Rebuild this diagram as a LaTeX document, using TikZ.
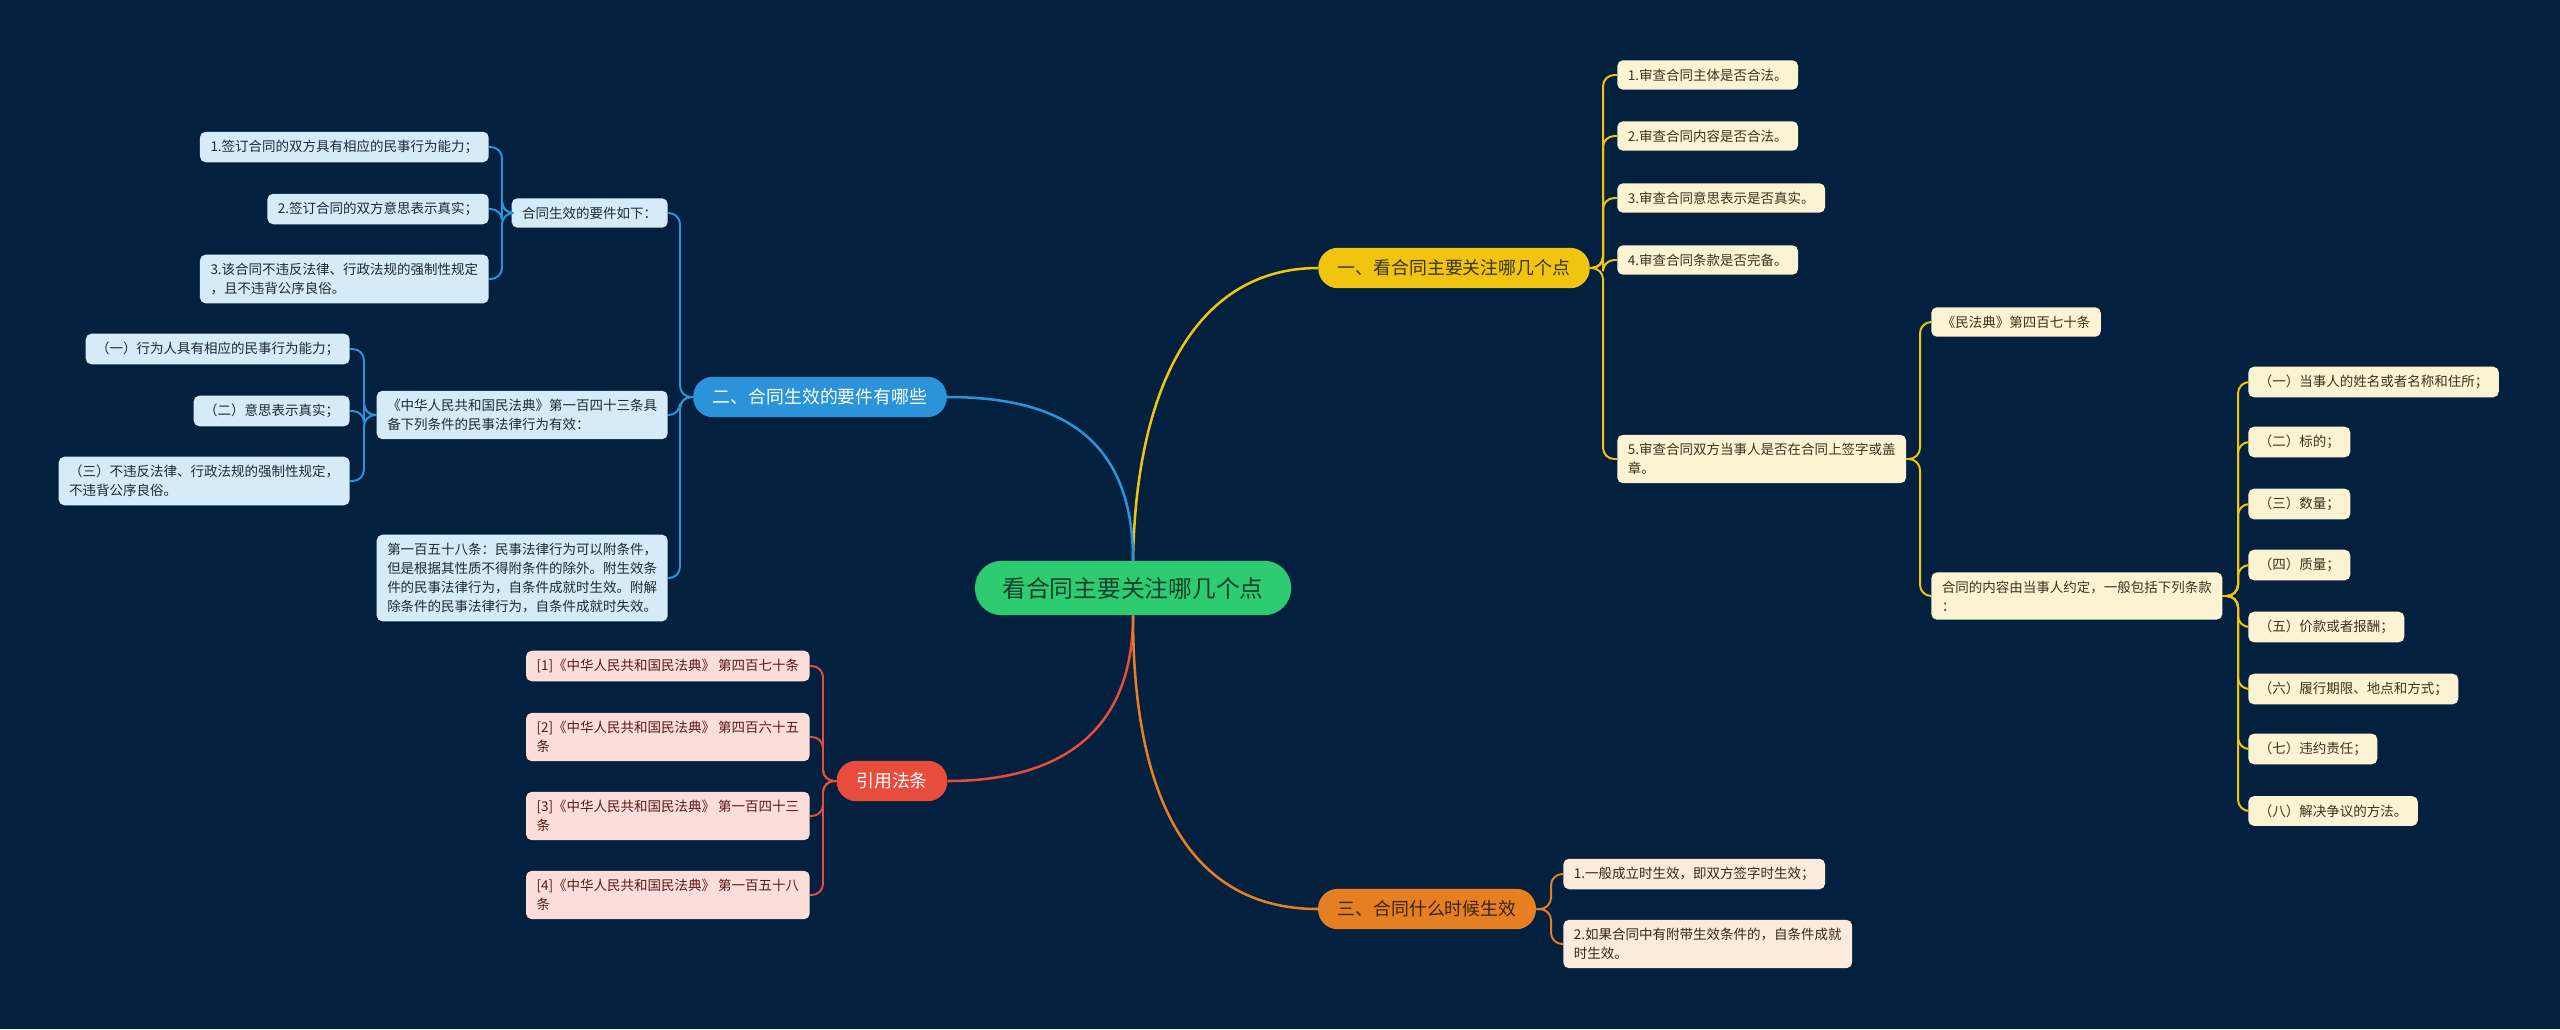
\documentclass[tikz,border=0pt]{standalone}
\usepackage{fontspec}
\setmainfont{Noto Sans CJK SC}
\definecolor{bg}{HTML}{03213F}
\definecolor{topicfill}{HTML}{2ECC71}
\definecolor{topictext}{HTML}{17402A}
\definecolor{ycol}{HTML}{F1C40F}
\definecolor{yfill}{HTML}{FCF3D2}
\definecolor{ytext}{HTML}{3A3420}
\definecolor{bcol}{HTML}{2A93DA}
\definecolor{bfill}{HTML}{D5EBF7}
\definecolor{btext}{HTML}{1E2A35}
\definecolor{ocol}{HTML}{E67E22}
\definecolor{ofill}{HTML}{FCEBDB}
\definecolor{otext}{HTML}{3A2414}
\definecolor{rcol}{HTML}{E74C3C}
\definecolor{rfill}{HTML}{FBDDD9}
\definecolor{rtext}{HTML}{5A1A14}
\tikzset{
  leaf/.style={rounded corners=4pt,inner xsep=7.5pt,inner ysep=6pt,align=left,font=\fontsize{9.6}{13.5}\selectfont},
  yleaf/.style={leaf,fill=yfill,text=ytext},
  bleaf/.style={leaf,fill=bfill,text=btext},
  oleaf/.style={leaf,fill=ofill,text=otext},
  rleaf/.style={leaf,fill=rfill,text=rtext},
  branch/.style={rounded corners=14pt,inner xsep=14pt,inner ysep=8.5pt,font=\fontsize{12.7}{15}\selectfont},
  topic/.style={rounded corners=19pt,inner xsep=19.5pt,inner ysep=11.5pt,fill=topicfill,text=topictext,font=\fontsize{16.9}{20}\selectfont},
  yline/.style={draw=ycol,line width=1.4pt,rounded corners=8pt},
  bline/.style={draw=bcol,line width=1.4pt,rounded corners=8pt},
  oline/.style={draw=ocol,line width=1.4pt,rounded corners=8pt},
  rline/.style={draw=rcol,line width=1.4pt,rounded corners=8pt}
}
\begin{document}
\begin{tikzpicture}[x=0.25mm,y=-0.25mm]
\useasboundingbox[fill=bg] (0,0) rectangle (2560,1029);
\node[topic] (top) at (1133,588) {看合同主要关注哪几个点};
\node[branch,fill=ycol,text=ytext] (b1) at (1454,268) {一、看合同主要关注哪几个点};
\node[branch,fill=bcol,text=white] (b2) at (820,397) {二、合同生效的要件有哪些};
\node[branch,fill=ocol,text=otext] (b3) at (1427,909) {三、合同什么时候生效};
\node[branch,fill=rcol,text=white] (b4) at (892,781) {引用法条};
\draw[yline,line width=1.8pt] (top.north) .. controls (1136,380) and (1200,268) .. (b1.west);
\draw[bline,line width=1.8pt] (top.north) .. controls (1133,430) and (1050,397) .. (b2.east);
\draw[rline,line width=1.8pt] (top.south) .. controls (1133,740) and (1050,781) .. (b4.east);
\draw[oline,line width=1.8pt] (top.south) .. controls (1133,830) and (1210,909) .. (b3.west);
\coordinate (ys) at (1603,0);
\coordinate (ms) at (1920,0);
\coordinate (ns) at (2238,0);
\node[yleaf,anchor=west] (y1) at (1617,75) {1.审查合同主体是否合法。};
\node[yleaf,anchor=west] (y2) at (1617,136) {2.审查合同内容是否合法。};
\node[yleaf,anchor=west] (y3) at (1617,198) {3.审查合同意思表示是否真实。};
\node[yleaf,anchor=west] (y4) at (1617,260) {4.审查合同条款是否完备。};
\node[yleaf,anchor=west] (y5) at (1617,459) {5.审查合同双方当事人是否在合同上签字或盖\\章。};
\node[yleaf,anchor=west] (m1) at (1931,322) {《民法典》第四百七十条};
\node[yleaf,anchor=west] (m2) at (1931,596) {合同的内容由当事人约定，一般包括下列条款\\：};
\node[yleaf,anchor=west] (n1) at (2248,382) {（一）当事人的姓名或者名称和住所；};
\node[yleaf,anchor=west] (n2) at (2248,442) {（二）标的；};
\node[yleaf,anchor=west] (n3) at (2248,504) {（三）数量；};
\node[yleaf,anchor=west] (n4) at (2248,565) {（四）质量；};
\node[yleaf,anchor=west] (n5) at (2248,627) {（五）价款或者报酬；};
\node[yleaf,anchor=west] (n6) at (2248,689) {（六）履行期限、地点和方式；};
\node[yleaf,anchor=west] (n7) at (2248,749) {（七）违约责任；};
\node[yleaf,anchor=west] (n8) at (2248,811) {（八）解决争议的方法。};
\draw[yline] (b1.east) -- (ys |- b1.east) -- (ys |- y1.west) -- (y1.west);
\draw[yline] (b1.east) -- (ys |- b1.east) -- (ys |- y2.west) -- (y2.west);
\draw[yline] (b1.east) -- (ys |- b1.east) -- (ys |- y3.west) -- (y3.west);
\draw[yline] (b1.east) -- (ys |- b1.east) -- (ys |- y4.west) -- (y4.west);
\draw[yline] (b1.east) -- (ys |- b1.east) -- (ys |- y5.west) -- (y5.west);
\draw[yline] (y5.east) -- (ms |- y5.east) -- (ms |- m1.west) -- (m1.west);
\draw[yline] (y5.east) -- (ms |- y5.east) -- (ms |- m2.west) -- (m2.west);
\draw[yline] (m2.east) -- (ns |- m2.east) -- (ns |- n1.west) -- (n1.west);
\draw[yline] (m2.east) -- (ns |- m2.east) -- (ns |- n2.west) -- (n2.west);
\draw[yline] (m2.east) -- (ns |- m2.east) -- (ns |- n3.west) -- (n3.west);
\draw[yline] (m2.east) -- (ns |- m2.east) -- (ns |- n4.west) -- (n4.west);
\draw[yline] (m2.east) -- (ns |- m2.east) -- (ns |- n5.west) -- (n5.west);
\draw[yline] (m2.east) -- (ns |- m2.east) -- (ns |- n6.west) -- (n6.west);
\draw[yline] (m2.east) -- (ns |- m2.east) -- (ns |- n7.west) -- (n7.west);
\draw[yline] (m2.east) -- (ns |- m2.east) -- (ns |- n8.west) -- (n8.west);
\coordinate (bs) at (680,0);
\coordinate (cs) at (502,0);
\coordinate (ds) at (364,0);
\node[bleaf,anchor=east] (c1) at (668,213) {合同生效的要件如下：};
\node[bleaf,anchor=east] (c2) at (668,415) {《中华人民共和国民法典》第一百四十三条具\\备下列条件的民事法律行为有效：};
\node[bleaf,anchor=east] (c3) at (668,578) {第一百五十八条：民事法律行为可以附条件，\\但是根据其性质不得附条件的除外。附生效条\\件的民事法律行为，自条件成就时生效。附解\\除条件的民事法律行为，自条件成就时失效。};
\node[bleaf,anchor=east] (e1) at (489,147) {1.签订合同的双方具有相应的民事行为能力；};
\node[bleaf,anchor=east] (e2) at (489,209) {2.签订合同的双方意思表示真实；};
\node[bleaf,anchor=east] (e3) at (489,279) {3.该合同不违反法律、行政法规的强制性规定\\，且不违背公序良俗。};
\node[bleaf,anchor=east] (f1) at (350,349) {（一）行为人具有相应的民事行为能力；};
\node[bleaf,anchor=east] (f2) at (350,411) {（二）意思表示真实；};
\node[bleaf,anchor=east] (f3) at (350,481) {（三）不违反法律、行政法规的强制性规定，\\不违背公序良俗。};
\draw[bline] (b2.west) -- (bs |- b2.west) -- (bs |- c1.east) -- (c1.east);
\draw[bline] (b2.west) -- (bs |- b2.west) -- (bs |- c2.east) -- (c2.east);
\draw[bline] (b2.west) -- (bs |- b2.west) -- (bs |- c3.east) -- (c3.east);
\draw[bline] (c1.west) -- (cs |- c1.west) -- (cs |- e1.east) -- (e1.east);
\draw[bline] (c1.west) -- (cs |- c1.west) -- (cs |- e2.east) -- (e2.east);
\draw[bline] (c1.west) -- (cs |- c1.west) -- (cs |- e3.east) -- (e3.east);
\draw[bline] (c2.west) -- (ds |- c2.west) -- (ds |- f1.east) -- (f1.east);
\draw[bline] (c2.west) -- (ds |- c2.west) -- (ds |- f2.east) -- (f2.east);
\draw[bline] (c2.west) -- (ds |- c2.west) -- (ds |- f3.east) -- (f3.east);
\coordinate (os) at (1551,0);
\node[oleaf,anchor=west] (o1) at (1563,874) {1.一般成立时生效，即双方签字时生效；};
\node[oleaf,anchor=west] (o2) at (1563,944) {2.如果合同中有附带生效条件的，自条件成就\\时生效。};
\draw[oline] (b3.east) -- (os |- b3.east) -- (os |- o1.west) -- (o1.west);
\draw[oline] (b3.east) -- (os |- b3.east) -- (os |- o2.west) -- (o2.west);
\coordinate (rs) at (823,0);
\node[rleaf,anchor=east] (r1) at (810,666) {[1]《中华人民共和国民法典》 第四百七十条};
\node[rleaf,anchor=east] (r2) at (810,737) {[2]《中华人民共和国民法典》 第四百六十五\\条};
\node[rleaf,anchor=east] (r3) at (810,816) {[3]《中华人民共和国民法典》 第一百四十三\\条};
\node[rleaf,anchor=east] (r4) at (810,895) {[4]《中华人民共和国民法典》 第一百五十八\\条};
\draw[rline] (b4.west) -- (rs |- b4.west) -- (rs |- r1.east) -- (r1.east);
\draw[rline] (b4.west) -- (rs |- b4.west) -- (rs |- r2.east) -- (r2.east);
\draw[rline] (b4.west) -- (rs |- b4.west) -- (rs |- r3.east) -- (r3.east);
\draw[rline] (b4.west) -- (rs |- b4.west) -- (rs |- r4.east) -- (r4.east);
\end{tikzpicture}
\end{document}
